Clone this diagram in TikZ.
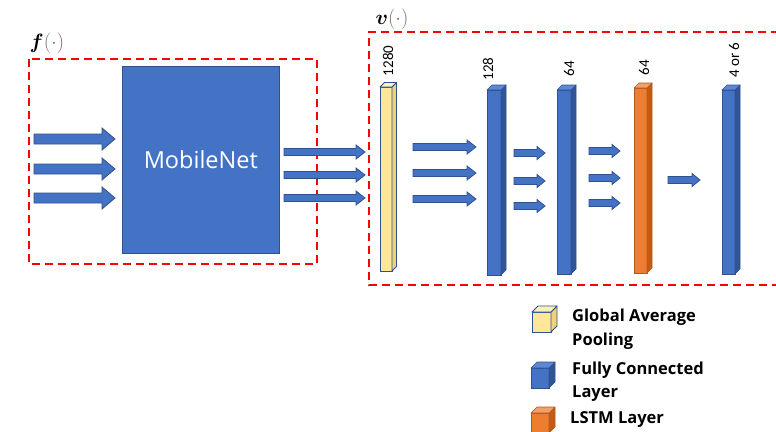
\documentclass[tikz,border=0pt]{standalone}
\usepackage{amsmath}
\usepackage{bm}
\usepackage{fontspec}
\setmainfont{Open Sans}
\newfontfamily\numfont{Carlito}
\usetikzlibrary{calc}
\definecolor{obl}{HTML}{4472C4}
\definecolor{oblside}{HTML}{2F5597}
\definecolor{obltop}{HTML}{5E88D2}
\definecolor{oblbord}{HTML}{2F528F}
\definecolor{gyel}{HTML}{FFE699}
\definecolor{gyelside}{HTML}{EED27A}
\definecolor{gyeltop}{HTML}{FFEFB8}
\definecolor{lor}{HTML}{ED7D31}
\definecolor{lorside}{HTML}{C55A11}
\definecolor{lortop}{HTML}{F3A068}
\definecolor{lorbord}{HTML}{AE5A21}
\definecolor{parcol}{HTML}{8A6A6A}
\tikzset{
  redbox/.style={draw=red, line width=2.4pt, dash pattern=on 8pt off 5pt},
  blk/.style={draw=oblbord, fill=obl, line width=0.8pt, line join=miter},
  gapfront/.style={draw=oblbord, fill=gyel, line width=0.9pt, inner sep=0pt, outer sep=0pt},
  gapside/.style={draw=oblbord, fill=gyelside, line width=0.9pt, line join=round},
  gaptop/.style={draw=oblbord, fill=gyeltop, line width=0.9pt, line join=round},
  fcfront/.style={draw=oblbord, fill=obl, line width=0.6pt, inner sep=0pt, outer sep=0pt},
  fcside/.style={draw=oblbord, fill=oblside, line width=0.6pt, line join=round},
  fctop/.style={draw=oblbord, fill=obltop, line width=0.6pt, line join=round},
  lstmfront/.style={draw=lorbord, fill=lor, line width=0.6pt, inner sep=0pt, outer sep=0pt},
  lstmside/.style={draw=lorbord, fill=lorside, line width=0.6pt, line join=round},
  lstmtop/.style={draw=lorbord, fill=lortop, line width=0.6pt, line join=round},
  lbl/.style={font=\numfont\fontsize{15}{18}\selectfont, rotate=90, inner sep=0pt},
  legtxt/.style={font=\bfseries\fontsize{16.5}{20}\selectfont, anchor=base west, inner sep=0pt},
  funlbl/.style={inner sep=0pt, anchor=base, font=\fontsize{22}{26}\selectfont},
}
% name, x, y(front top), width, height, depth, style prefix
\newcommand\cubebar[7]{%
  \node[#7front, minimum width=#4, minimum height=#5, anchor=north west] (#1) at (#2,#3) {};
  \draw[#7side] (#1.north east) -- ++(#6,-#6) -- ([shift={(#6,-#6)}]#1.south east) -- (#1.south east) -- cycle;
  \draw[#7top] (#1.north west) -- ++(#6,-#6) -- ([shift={(#6,-#6)}]#1.north east) -- (#1.north east) -- cycle;
}
% x1, x2, y, shaft half, head half, head length
\newcommand\barrow[6]{%
  \draw[blk] ({#1},{#3-#4}) -- ({#2-#6},{#3-#4}) -- ({#2-#6},{#3-#5}) -- ({#2},{#3}) -- ({#2-#6},{#3+#5}) -- ({#2-#6},{#3+#4}) -- ({#1},{#3+#4}) -- cycle;
}
\begin{document}
\begin{tikzpicture}[x=1pt,y=-1pt]
\useasboundingbox (0,0) rectangle (776,431);
\fill[white] (0,0) rectangle (776,431);

% labels f and v
\node[funlbl] (flab) at (47,48) {$\bm{f}$\textcolor{parcol}{$(\cdot)$}};
\node[funlbl] (vlab) at (392,24) {$\bm{v}$\textcolor{parcol}{$(\cdot)$}};

% dashed boxes
\draw[redbox] (29,59) rectangle (317,264);
\draw[redbox] (779,32) -- (369,32) -- (369,285) -- (779,285);

% input arrows
\barrow{34}{115}{139}{5}{11}{13}
\barrow{34}{115}{169}{5}{11}{13}
\barrow{34}{115}{198}{5}{11}{13}

% MobileNet
\node[draw=oblbord, fill=obl, line width=0.6pt, minimum width=157, minimum height=187, anchor=north west, inner sep=0pt,
      text=white, font=\fontsize{23.5}{28}\selectfont] (mnet) at (122,66) {MobileNet};

% arrows out of MobileNet
\barrow{284}{365}{152}{3.5}{7}{9}
\barrow{284}{365}{175}{3.5}{7}{9}
\barrow{284}{365}{198}{3.5}{7}{9}

% layers
\cubebar{gap}{380}{87}{12}{184}{4.5}{gap}
\cubebar{fca}{487}{90}{14}{185}{5}{fc}
\cubebar{fcb}{557}{90}{14}{184}{5}{fc}
\cubebar{lstm}{634}{88}{13}{185}{5}{lstm}
\cubebar{fcc}{722}{90}{13}{184}{5}{fc}

% sizes
\node[lbl] (l1) at (388,61) {1280};
\node[lbl] (l2) at (488,69) {128};
\node[lbl] (l3) at (569,69) {64};
\node[lbl] (l4) at (644,68) {64};
\node[lbl] (l5) at (734,60) {4 or 6};

% arrows between layers
\barrow{413}{476}{147}{3.5}{7}{9}
\barrow{413}{476}{173}{3.5}{7}{9}
\barrow{413}{476}{199}{3.5}{7}{9}
\barrow{514}{545}{153}{3.5}{6.5}{8}
\barrow{514}{545}{181}{3.5}{6.5}{8}
\barrow{514}{545}{206}{3.5}{6.5}{8}
\barrow{589}{620}{151}{3.5}{6.5}{8}
\barrow{589}{620}{178}{3.5}{6.5}{8}
\barrow{589}{620}{203}{3.5}{6.5}{8}
\barrow{668}{700}{180}{3.5}{6.5}{8}

% legend
\cubebar{leggap}{532}{312}{19}{20}{6}{gap}
\cubebar{legfc}{531}{368}{18}{20}{6}{fc}
\cubebar{leglstm}{531}{413}{18}{20}{6}{lstm}
\node[legtxt] (t1) at (572,321) {Global Average};
\node[legtxt] (t2) at (572,345) {Pooling};
\node[legtxt] (t3) at (572,374) {Fully Connected};
\node[legtxt] (t4) at (572,397) {Layer};
\node[legtxt] (t5) at (570,423) {LSTM Layer};
\end{tikzpicture}
\end{document}
